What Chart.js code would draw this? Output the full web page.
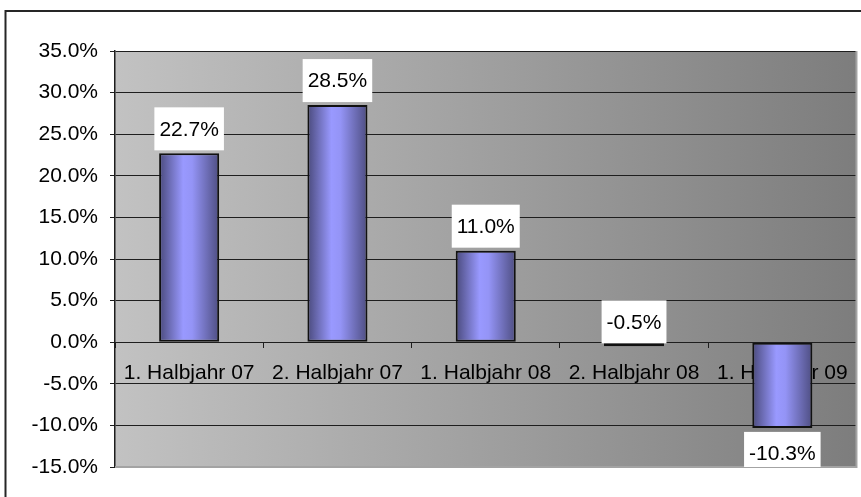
<!DOCTYPE html>
<html>
<head>
<meta charset="utf-8">
<script src="https://cdn.jsdelivr.net/npm/chart.js@4.4.0/dist/chart.umd.min.js"></script>
<style>
  body { margin: 0; background: #fff; }
</style>
</head>
<body>
<canvas id="chart" width="861" height="497"></canvas>
<script>
const categories = ['1. Halbjahr 07', '2. Halbjahr 07', '1. Halbjahr 08', '2. Halbjahr 08', '1. Halbjahr 09'];
const changeValues = [22.7, 28.5, 11.0, -0.5, -10.3];
const yMin = -15;
const yMax = 35;
const yStep = 5;

const FONT = "'Liberation Sans', Arial, sans-serif";
const BAR_PCT = 0.405;

// horizontal shading of each bar, dark edges and light middle
function barGradient(context) {
    const chart = context.chart;
    const xs = chart.scales.x;
    if (!xs || !chart.chartArea) return '#9999ff';
    const cx = xs.getPixelForValue(context.dataIndex);
    const w = (xs.width / categories.length) * BAR_PCT;
    const g = chart.ctx.createLinearGradient(cx - w / 2, 0, cx + w / 2, 0);
    g.addColorStop(0, '#4a4a7c');
    g.addColorStop(0.4, '#9999ff');
    g.addColorStop(0.55, '#9494f6');
    g.addColorStop(1, '#4e4e82');
    return g;
}

const plotBackground = {
    id: 'plotBackground',
    beforeDraw(chart) {
        const { ctx, chartArea: a } = chart;
        ctx.save();
        ctx.strokeStyle = '#262626';
        ctx.lineWidth = 2;
        ctx.strokeRect(5.5, 11, 900, 600);
        const g = ctx.createLinearGradient(a.left, 0, a.right, 0);
        g.addColorStop(0, '#c2c2c2');
        g.addColorStop(1, '#7d7d7d');
        ctx.fillStyle = g;
        ctx.fillRect(a.left, a.top, a.width, a.height);
        ctx.restore();
    }
};

const valueLabels = {
    id: 'valueLabels',
    afterDatasetsDraw(chart) {
        const { ctx, chartArea: a } = chart;
        ctx.save();
        // plot frame right and bottom
        ctx.strokeStyle = '#a3a3a3';
        ctx.lineWidth = 2;
        ctx.beginPath();
        ctx.moveTo(a.left, a.bottom);
        ctx.lineTo(a.right, a.bottom);
        ctx.lineTo(a.right, a.top);
        ctx.stroke();

        ctx.beginPath();
        ctx.rect(a.left, a.top - 60, a.width, a.height + 60);
        ctx.clip();
        ctx.font = '21px ' + FONT;
        ctx.textAlign = 'center';
        ctx.textBaseline = 'middle';
        const meta = chart.getDatasetMeta(0);
        meta.data.forEach((bar, i) => {
            const v = changeValues[i];
            const text = v.toFixed(1) + '%';
            const bw = ctx.measureText(text).width + 10;
            const bh = 43;
            const top = v > -5 ? bar.y - 3 - bh : bar.y + 4;
            ctx.fillStyle = '#fff';
            ctx.fillRect(bar.x - bw / 2, top, bw, Math.min(bh, a.bottom - top));
            ctx.fillStyle = '#000';
            ctx.fillText(text, bar.x, top + bh / 2 + 1);
        });
        ctx.restore();
    }
};

new Chart(document.getElementById('chart'), {
    type: 'bar',
    data: {
        labels: categories,
        datasets: [{
            data: changeValues,
            backgroundColor: barGradient,
            borderColor: '#111',
            borderWidth: 2,
            borderSkipped: false,
            categoryPercentage: 1,
            barPercentage: BAR_PCT
        }]
    },
    options: {
        responsive: false,
        animation: false,
        layout: { padding: { left: 0, top: 51, right: 3, bottom: 30 } },
        plugins: {
            legend: { display: false },
            tooltip: { enabled: false }
        },
        scales: {
            x: {
                position: { y: 0 },
                offset: true,
                grid: { drawOnChartArea: false, drawTicks: true, tickLength: 5, color: '#1e1e1e', offset: true },
                border: { display: true, color: '#1e1e1e', width: 1 },
                ticks: { font: { family: FONT, size: 21 }, color: '#000', padding: 13, maxRotation: 0, autoSkip: false }
            },
            y: {
                min: yMin,
                max: yMax,
                ticks: {
                    stepSize: yStep,
                    font: { family: FONT, size: 21 },
                    color: '#000',
                    padding: 12,
                    callback: v => v.toFixed(1) + '%'
                },
                grid: { color: '#1e1e1e', lineWidth: 1, tickLength: 5 },
                border: { color: '#1e1e1e', width: 1.5 },
                afterFit(scale) { scale.width = 115; }
            }
        }
    },
    plugins: [plotBackground, valueLabels]
});
</script>
</body>
</html>
